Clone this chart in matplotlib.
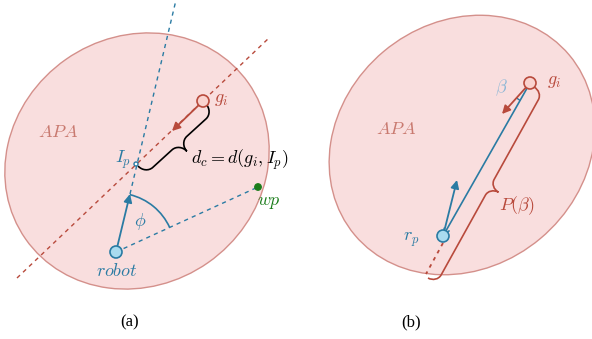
import numpy as np
import matplotlib.pyplot as plt
from matplotlib.patches import Ellipse, Circle, Arc, PathPatch
from matplotlib.path import Path

plt.rcParams['mathtext.fontset'] = 'cm'

# key points of the two sketches (pixel units, y pointing down)
robot = (116, 252)
robot_dir = (130, 194)
ip = (136, 164)
goal_a = (203, 101)
goal_arrow_a = (172, 131)
wp = (258, 187)
red_line_a = [(17, 278), (270, 37)]
blue_line_a = [(130, 194), (176, 0)]

goal_b = (530, 83)
rp = (443, 236)
rp_dir = (457, 180)
goal_arrow_b = (502, 114)
red_dots_b = [(443, 243), (426, 274)]

red = '#b84a3c'
blue = '#2a7ba3'
pink = '#f9dede'

fig = plt.figure(figsize=(5.92, 3.39), dpi=100)
ax = fig.add_axes([0, 0, 1, 1])
ax.set_xlim(0, 592)
ax.set_ylim(339, 0)
ax.axis('off')


def brace(p1, p2, w, r, side, **kw):
    p1 = np.array(p1, float)
    p2 = np.array(p2, float)
    d = p2 - p1
    L = np.hypot(*d)
    u = d / L
    n = np.array([-u[1], u[0]]) * side
    h = w / 2
    k = 0.552
    loc = [(0, 0), (0, k * h), (r - k * r, h), (r, h),
           (L / 2 - r, h),
           (L / 2 - r + k * r, h), (L / 2, w - k * h), (L / 2, w),
           (L / 2, w - k * h), (L / 2 + r - k * r, h), (L / 2 + r, h),
           (L - r, h),
           (L - r + k * r, h), (L, k * h), (L, 0)]
    codes = [Path.MOVETO] + [Path.CURVE4] * 3 + [Path.LINETO] + \
        [Path.CURVE4] * 6 + [Path.LINETO] + [Path.CURVE4] * 3
    verts = [p1 + s * u + t * n for s, t in loc]
    ax.add_patch(PathPatch(Path(verts, codes), fill=False, **kw))


def arrow(a, b, color, style='-|>', lw=1.3, ms=12):
    ax.annotate('', xy=b, xytext=a,
                arrowprops=dict(arrowstyle=style, color=color, lw=lw,
                                mutation_scale=ms, shrinkA=0, shrinkB=0))


# ----- panel (a)
ax.add_patch(Ellipse((137, 161), 272, 248, angle=-35, facecolor=pink,
                     edgecolor='#d4908b', lw=1))
ax.plot(*zip(*red_line_a), color=red, lw=1, ls=(0, (3, 3)))
ax.plot(*zip(*blue_line_a), color=blue, lw=1, ls=(0, (3, 3)))
ax.plot(*zip(robot, wp), color=blue, lw=1, ls=(0, (3, 3)))

a1 = np.degrees(np.arctan2(robot_dir[1] - robot[1], robot_dir[0] - robot[0]))
a2 = np.degrees(np.arctan2(wp[1] - robot[1], wp[0] - robot[0]))
ax.add_patch(Arc(robot, 118, 118, theta1=a1, theta2=a2, color=blue, lw=1.2))

arrow(robot, robot_dir, blue)
arrow(goal_a, goal_arrow_a, red)
brace((206, 104), (138, 166), 22, 10, -1, color='black', lw=1.2)

ax.add_patch(Circle(robot, 6, facecolor='#a9dbef', edgecolor=blue, lw=1.2, zorder=5))
ax.add_patch(Circle(goal_a, 6, facecolor='#fad3cf', edgecolor=red, lw=1.2, zorder=5))
ax.add_patch(Circle(ip, 2, facecolor='white', edgecolor=blue, lw=1, zorder=5))
ax.add_patch(Circle(wp, 3.2, color='#1b7d1b', zorder=5))

ax.text(117, 262, '$robot$', color=blue, fontsize=13, ha='center', va='top')
ax.text(140, 221, r'$\phi$', color=blue, fontsize=13, ha='center', va='center')
ax.text(131, 160, '$I_p$', color=blue, fontsize=13, ha='right', va='center')
ax.text(257, 193, '$wp$', color='#1b7d1b', fontsize=13, ha='left', va='top')
ax.text(214, 99, '$g_i$', color=red, fontsize=13, ha='left', va='center')
ax.text(58, 132, '$APA$', color='#c97a70', fontsize=13, ha='center', va='center')
ax.text(191, 160, '$d_c = d(g_i, I_p)$', color='black', fontsize=13,
        ha='left', va='center')
ax.text(130, 322, '(a)', fontsize=12, family='Liberation Serif',
        ha='center', va='center')

# ----- panel (b)
ax.add_patch(Ellipse((462, 145), 280, 244, angle=-40, facecolor=pink,
                     edgecolor='#d4908b', lw=1))
ax.plot(*zip(*red_dots_b), color=red, lw=1.3, ls=(0, (2, 2.5)))
arrow(goal_b, rp, blue, style='->', lw=1.2, ms=10)
arrow(rp, rp_dir, blue)
arrow(goal_b, goal_arrow_b, red)

b1 = np.degrees(np.arctan2(goal_arrow_b[1] - goal_b[1], goal_arrow_b[0] - goal_b[0]))
b2 = np.degrees(np.arctan2(rp[1] - goal_b[1], rp[0] - goal_b[0]))
ax.add_patch(Arc(goal_b, 40, 40, theta1=b2, theta2=b1, color=blue, lw=1))

brace((534, 87), (428, 278), 20, 9, -1, color=red, lw=1.2)

ax.add_patch(Circle(rp, 6, facecolor='#a9dbef', edgecolor=blue, lw=1.2, zorder=5))
ax.add_patch(Circle(goal_b, 6, facecolor='#fad3cf', edgecolor=red, lw=1.2, zorder=5))

ax.text(547, 81, '$g_i$', color=red, fontsize=13, ha='left', va='center')
ax.text(501, 88, r'$\beta$', color='#8db7d6', fontsize=13, ha='center', va='center')
ax.text(411, 240, '$r_p$', color=blue, fontsize=13, ha='center', va='center')
ax.text(499, 206, r'$P(\beta)$', color=red, fontsize=13, ha='left', va='center')
ax.text(396, 129, '$APA$', color='#c97a70', fontsize=13, ha='center', va='center')
ax.text(411, 322, '(b)', fontsize=12, family='Liberation Serif',
        ha='center', va='center')

fig.savefig('out.png', dpi=100)
